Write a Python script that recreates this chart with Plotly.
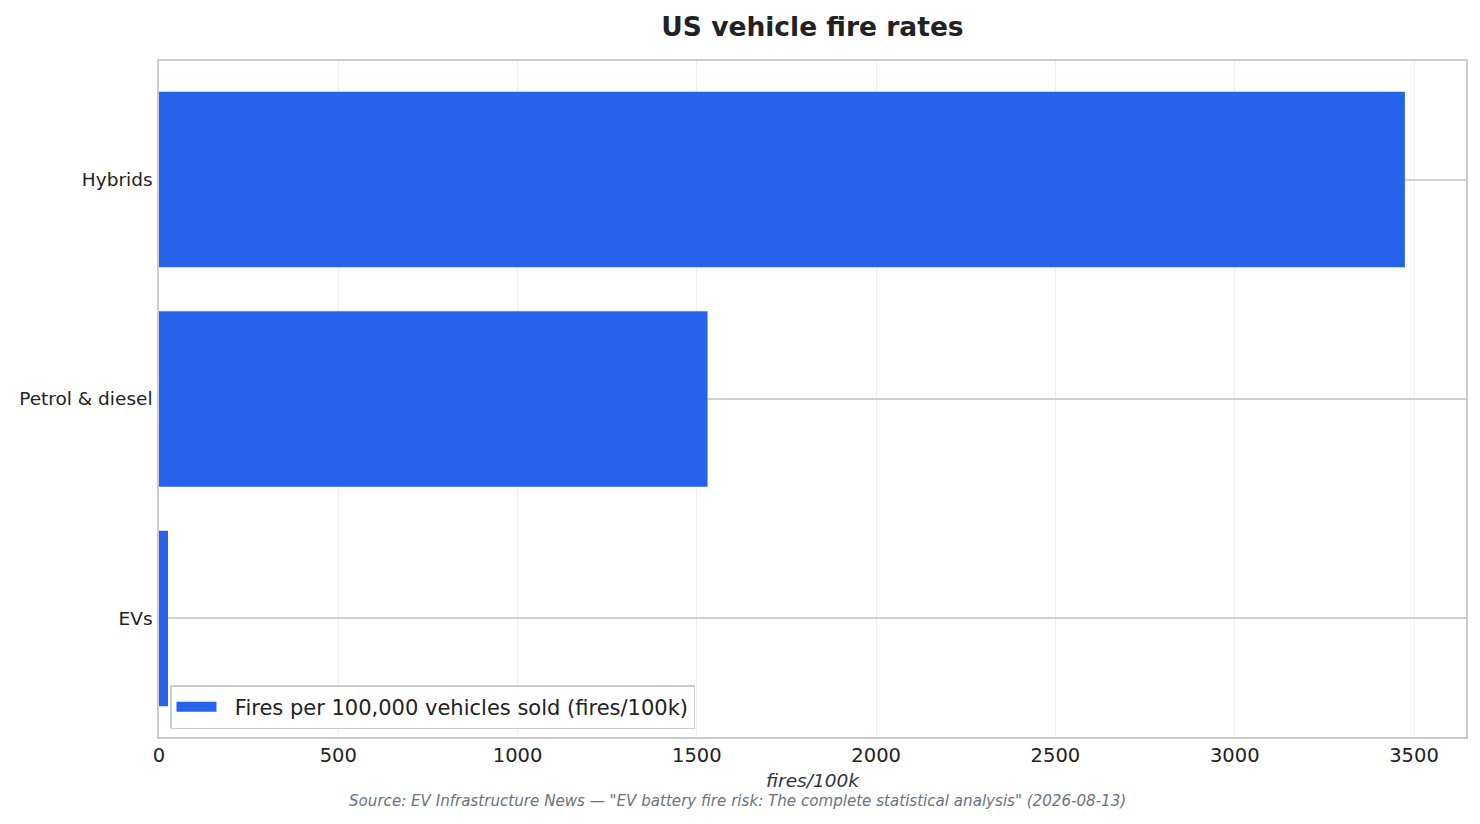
import plotly.graph_objects as go

categories = ["EVs", "Petrol & diesel", "Hybrids"]
fire_rates = [25.1, 1529.9, 3474.5]
x_ticks = [0, 500, 1000, 1500, 2000, 2500, 3000, 3500]

FONT = "DejaVu Sans"
BLUE = "#2563eb"
LEGEND_NAME = "Fires per 100,000 vehicles sold (fires/100k)"

fig = go.Figure()
fig.add_trace(go.Bar(
    y=categories,
    x=fire_rates,
    orientation="h",
    width=0.8,
    marker=dict(color=BLUE, line=dict(width=0)),
    name=LEGEND_NAME,
    showlegend=False,
))
# legend entry drawn as a wide patch, like the reference
fig.add_trace(go.Scatter(
    x=[None], y=[None],
    mode="lines",
    line=dict(color=BLUE, width=13),
    name="\u00a0\u00a0" + LEGEND_NAME,
    showlegend=True,
))

fig.update_layout(
    width=1480,
    height=824,
    margin=dict(l=159, r=14, t=61, b=87),
    paper_bgcolor="white",
    plot_bgcolor="white",
    font=dict(family=FONT, size=18, color="#222222"),
    title=dict(
        text="<b>US vehicle fire rates</b>",
        xref="paper", x=0.5, xanchor="center",
        y=1 - 27 / 824, yanchor="middle",
        font=dict(family=FONT, size=26.5, color="#222222"),
    ),
    legend=dict(
        x=11 / 1307, y=8 / 676, xanchor="left", yanchor="bottom",
        bgcolor="rgba(255,255,255,0.85)",
        bordercolor="#cccccc", borderwidth=1.5,
        font=dict(family=FONT, size=21, color="#222222"),
        itemwidth=40,
    ),
)

fig.update_xaxes(
    range=[0, 3645],
    tickvals=x_ticks,
    ticks="",
    tickfont=dict(family=FONT, size=19.5, color="#222222"),
    showgrid=True, gridcolor="#eeeeee", gridwidth=1,
    zeroline=False,
    showline=True, linecolor="#cccccc", linewidth=1.5, mirror=True,
    title=dict(text="<i>fires/100k</i>", font=dict(family=FONT, size=18.5, color="#2e3444"), standoff=8),
)
fig.update_yaxes(
    range=[-0.54, 2.54],
    ticks="",
    tickfont=dict(family=FONT, size=18.5, color="#222222"),
    showgrid=True, gridcolor="#d0d0d0", gridwidth=1.5,
    zeroline=False,
    showline=True, linecolor="#cccccc", linewidth=1.5, mirror=True,
    ticklabelstandoff=1,
)

fig.add_annotation(
    text="<i>Source: EV Infrastructure News \u2014 \"EV battery fire risk: The complete statistical analysis\" (2026-08-13)</i>",
    xref="paper", yref="paper",
    x=(737 - 159) / (1480 - 159 - 14), y=-(801 - 737) / 676,
    xanchor="center", yanchor="middle",
    showarrow=False,
    font=dict(family=FONT, size=15.1, color="#6b7280"),
)

# the page body has a default 8px margin; drop it so the figure fills the window
fig.write_html(
    "out.html",
    config={"displayModeBar": False},
    post_script="document.body.style.margin='0';document.body.style.overflow='hidden';",
)
